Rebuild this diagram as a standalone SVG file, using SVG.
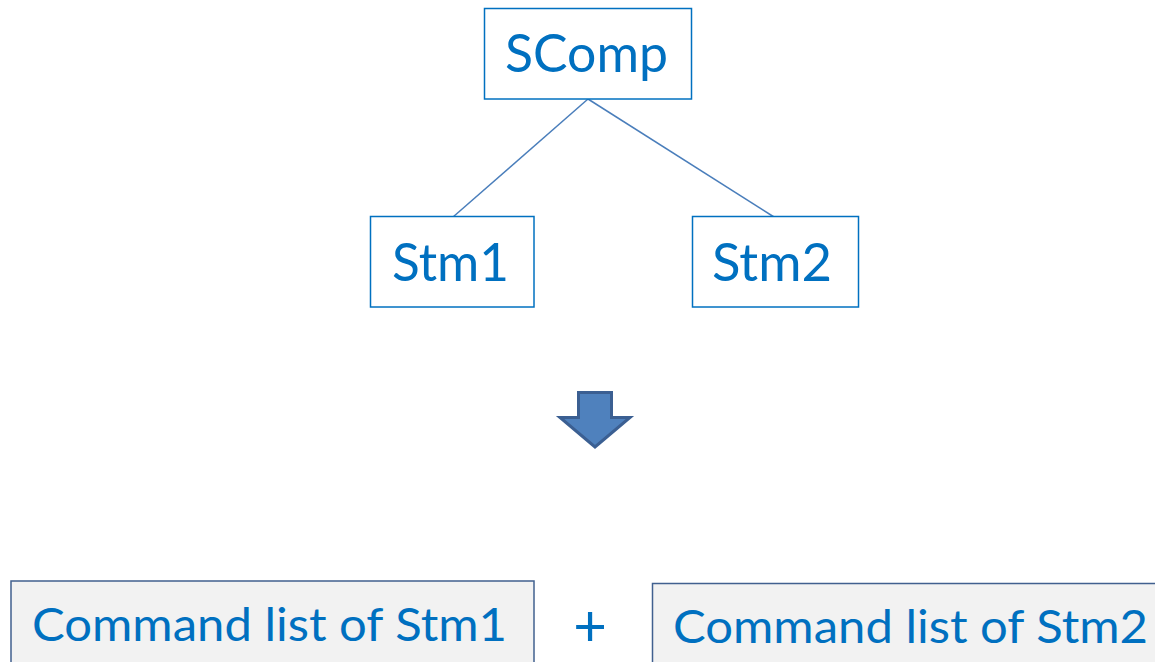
<svg xmlns="http://www.w3.org/2000/svg" width="1155" height="662" viewBox="0 0 1155 662">
<style>
.t{font-family:Lato,"Open Sans","Liberation Sans",sans-serif;fill:#0070c0}
.n{fill:#fff;stroke:#0070c0;stroke-width:1.5}
.c{fill:#f2f2f2;stroke:#41608f;stroke-width:1.5}
.e{stroke:#4a7ebb;stroke-width:1.5;fill:none}
</style>
<rect width="1155" height="662" fill="#fff"/>
<g id="connectors">
<line class="e" x1="588" y1="99" x2="453" y2="217"/>
<line class="e" x1="588" y1="99" x2="774" y2="217"/>
</g>
<g id="scomp">
<rect class="n" x="484.5" y="8.5" width="207" height="90.5"/>
<text class="t" x="505" y="72" font-size="52" textLength="163" lengthAdjust="spacingAndGlyphs">SComp</text>
</g>
<g id="stm1">
<rect class="n" x="370.5" y="216.5" width="163.5" height="90.5"/>
<text class="t" x="392" y="281" font-size="52" textLength="117" lengthAdjust="spacingAndGlyphs">Stm1</text>
</g>
<g id="stm2">
<rect class="n" x="692.5" y="216.5" width="166" height="90.5"/>
<text class="t" x="712" y="281" font-size="52" textLength="120" lengthAdjust="spacingAndGlyphs">Stm2</text>
</g>
<g id="arrow">
<polygon points="578.5,392.5 611.5,392.5 611.5,417.5 630,417.5 595,447 560,417.5 578.5,417.5" fill="#4f81bd" stroke="#3b5f92" stroke-width="3" stroke-linejoin="miter"/>
</g>
<g id="cmd1">
<rect class="c" x="11" y="581" width="523" height="90"/>
<text class="t" x="32" y="641" font-size="47" textLength="475" lengthAdjust="spacingAndGlyphs">Command list of Stm1</text>
</g>
<g id="plus">
<text class="t" x="590" y="646" font-size="58" text-anchor="middle">+</text>
</g>
<g id="cmd2">
<rect class="c" x="652.5" y="583.5" width="510" height="90"/>
<text class="t" x="673" y="643" font-size="47" textLength="475" lengthAdjust="spacingAndGlyphs">Command list of Stm2</text>
</g>
</svg>
